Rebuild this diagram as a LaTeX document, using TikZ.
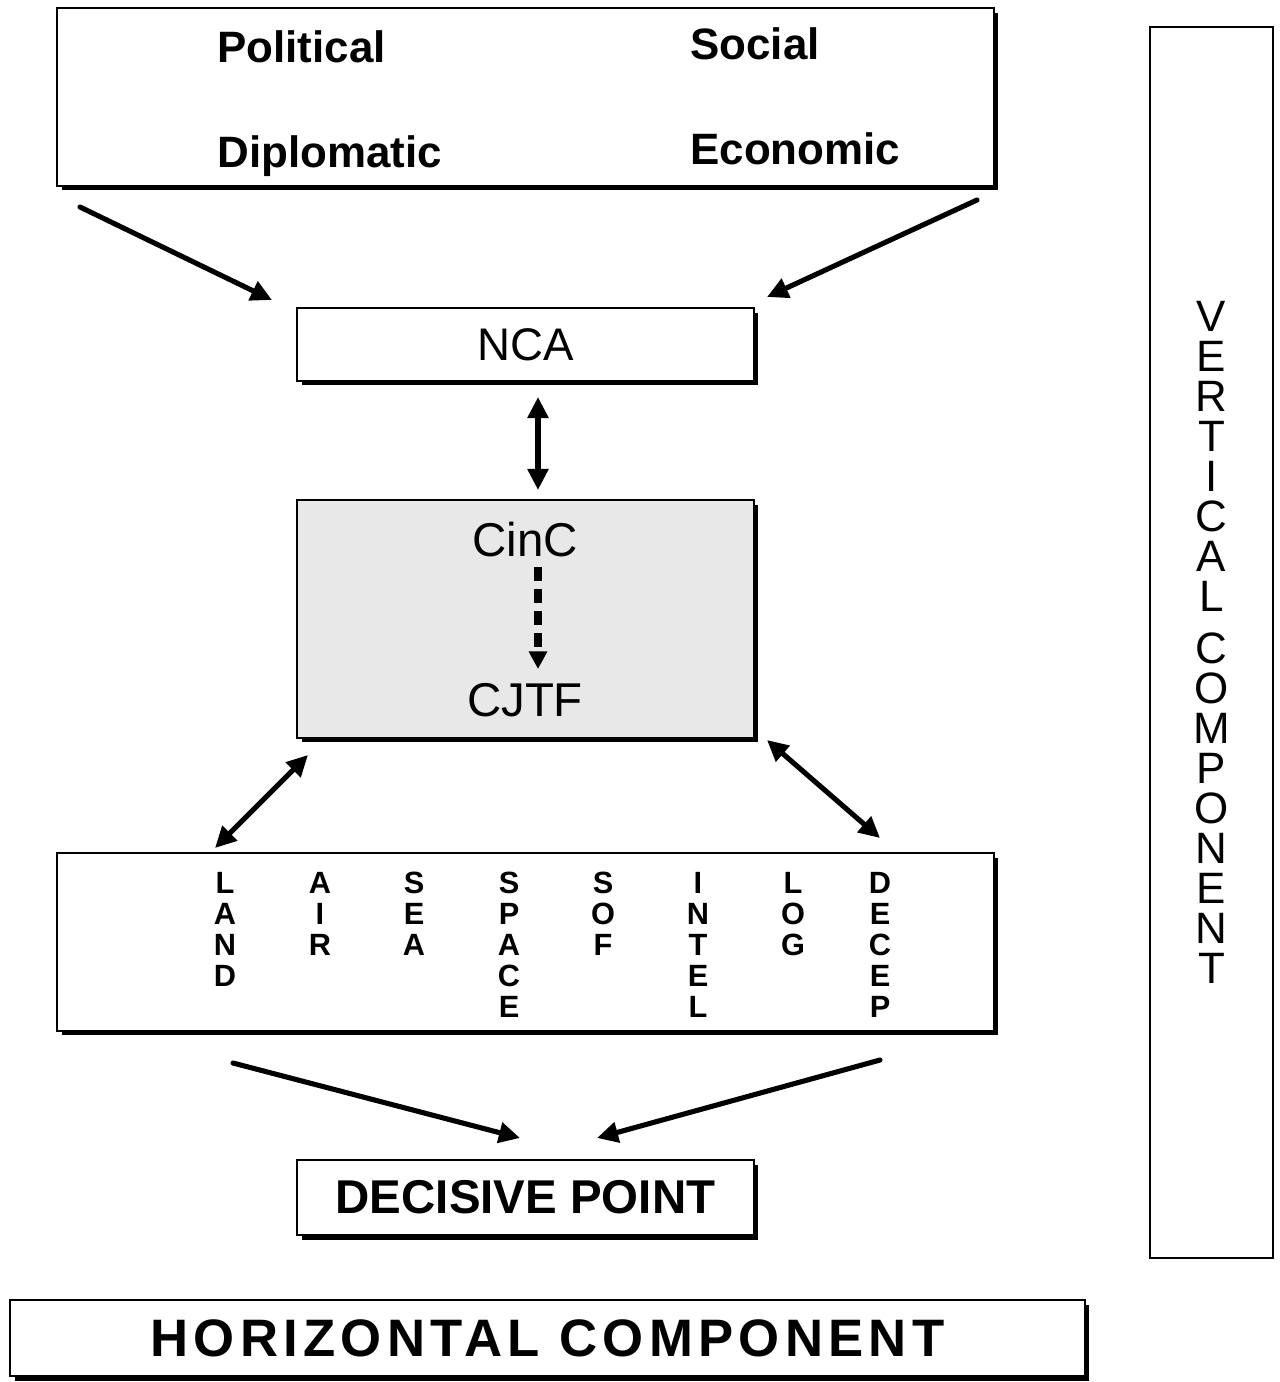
\documentclass[tikz,border=0pt]{standalone}
\usepackage{fontspec}
\setmainfont{Liberation Sans}
\usetikzlibrary{arrows.meta,shadows}
\begin{document}
\begin{tikzpicture}[x=0.02cm,y=-0.02cm,
  box/.style={draw, line width=1.4pt, fill=white, inner sep=0pt,
    drop shadow={shadow xshift=0.09cm, shadow yshift=-0.09cm, fill=black, opacity=1}},
  plainbox/.style={draw, line width=1.1pt, fill=white, inner sep=0pt},
  toptxt/.style={anchor=base west, inner sep=0pt, font=\fontsize{25}{28}\selectfont\bfseries},
  svc/.style={anchor=north, inner sep=0pt, align=center, font=\fontsize{17.5}{17.6}\selectfont\bfseries},
  arr/.style={line width=2.9pt, line cap=round, -{Triangle[length=12pt,width=11.5pt]}},
  darr/.style={line width=2.9pt, {Triangle[length=12pt,width=11.5pt]}-{Triangle[length=12pt,width=11.5pt]}},
  dasharr/.style={line width=4pt, dash pattern=on 8pt off 4.5pt, -{Triangle[length=10pt,width=10pt]}}]
\useasboundingbox (0,0) rectangle (1280,1382);
\fill[white] (0,0) rectangle (1280,1382);

% top box
\node[box, minimum width=18.74cm, minimum height=3.56cm] (top) at (525.5,97) {};
\node[toptxt] (pol) at (217,63) {Political};
\node[toptxt] (soc) at (690,60) {Social};
\node[toptxt] (dip) at (217,168) {Diplomatic};
\node[toptxt] (eco) at (690,165) {Economic};

% NCA
\node[box, minimum width=9.14cm, minimum height=1.46cm,
  font=\fontsize{26}{30}\selectfont] (nca) at (525.5,344.5) {NCA};

% CinC / CJTF
\node[box, fill=black!9, minimum width=9.14cm, minimum height=4.76cm] (cmd) at (525.5,619) {};
\node[inner sep=0pt, font=\fontsize{27}{30}\selectfont] (cinc) at (525,540) {CinC};
\node[inner sep=0pt, font=\fontsize{27}{30}\selectfont] (cjtf) at (525,700) {CJTF};

% services
\node[box, minimum width=18.74cm, minimum height=3.56cm] (svcbox) at (525.5,942) {};
\node[svc] (land) at (225,872) {L\\A\\N\\D};
\node[svc] (air) at (320,872) {A\\I\\R};
\node[svc] (sea) at (414,872) {S\\E\\A};
\node[svc] (space) at (509,872) {S\\P\\A\\C\\E};
\node[svc] (sof) at (603,872) {S\\O\\F};
\node[svc] (intel) at (698,872) {I\\N\\T\\E\\L};
\node[svc] (log) at (793,872) {L\\O\\G};
\node[svc] (decep) at (880,872) {D\\E\\C\\E\\P};

% decisive point
\node[box, minimum width=9.14cm, minimum height=1.5cm,
  font=\fontsize{27}{30}\selectfont\bfseries] (dp) at (525.5,1197.5) {DECISIVE POINT};

% horizontal component
\node[box, minimum width=21.5cm, minimum height=1.52cm,
  font=\fontsize{30}{34}\selectfont\bfseries\addfontfeature{LetterSpace=10}] (hc) at (547.5,1338) {HORIZONTAL COMPONENT};

% vertical component
\node[plainbox, minimum width=2.46cm, minimum height=24.62cm, align=center,
  font=\fontsize{25}{22.76}\selectfont] (vc) at (1211.5,642.5)
  {V\\E\\R\\T\\I\\C\\A\\L\\[7pt]C\\O\\M\\P\\O\\N\\E\\N\\T};

% connector end points
\coordinate (a1s) at (80,207);   \coordinate (a1e) at (272,300);
\coordinate (a2s) at (977,200);  \coordinate (a2e) at (767,297);
\coordinate (a3s) at (538,397);  \coordinate (a3e) at (538,490);
\coordinate (a4s) at (308,755);  \coordinate (a4e) at (215,848);
\coordinate (a5s) at (767,740);  \coordinate (a5e) at (880,838);
\coordinate (a6s) at (233,1063); \coordinate (a6e) at (520,1138);
\coordinate (a7s) at (880,1060); \coordinate (a7e) at (597,1138);
\coordinate (d1s) at (538,567);  \coordinate (d1e) at (538,669);

\draw[arr] (a1s) -- (a1e);
\draw[arr] (a2s) -- (a2e);
\draw[darr] (a3s) -- (a3e);
\draw[darr] (a4s) -- (a4e);
\draw[darr] (a5s) -- (a5e);
\draw[arr] (a6s) -- (a6e);
\draw[arr] (a7s) -- (a7e);
\draw[dasharr] (d1s) -- (d1e);
\end{tikzpicture}
\end{document}
